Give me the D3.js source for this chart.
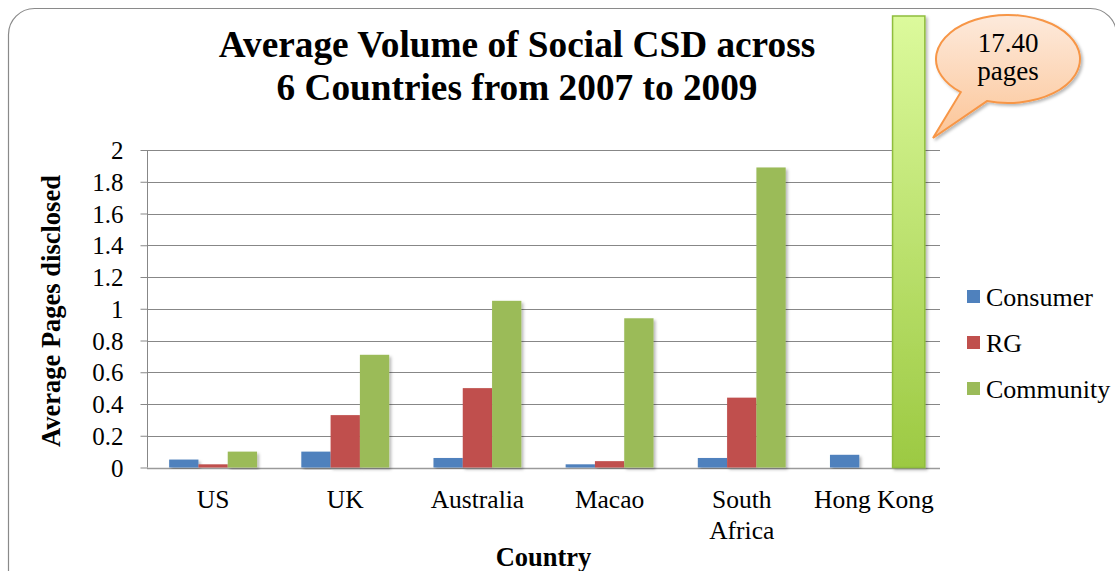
<!DOCTYPE html>
<html>
<head>
<meta charset="utf-8">
<script src="https://cdn.jsdelivr.net/npm/d3@7/dist/d3.min.js"></script>
<style>
  html, body { margin: 0; padding: 0; background: #fff; }
  svg { display: block; }
  text { font-family: "Liberation Serif", "Times New Roman", serif; fill: #000; }
</style>
</head>
<body>
<svg id="chart" width="1115" height="571"></svg>
<script>
// Average pages of social CSD disclosed, by country and category
const countries = ["US", "UK", "Australia", "Macao", "South Africa", "Hong Kong"];
const countryLines = [["US"], ["UK"], ["Australia"], ["Macao"], ["South", "Africa"], ["Hong Kong"]];
const seriesNames = ["Consumer", "RG", "Community"];
const consumer  = [0.05, 0.10, 0.06, 0.02, 0.06, 0.08];
const rg        = [0.02, 0.33, 0.50, 0.04, 0.44, 0.00];
const community = [0.10, 0.71, 1.05, 0.94, 1.89, 17.40];
const yTicks = [0, 0.2, 0.4, 0.6, 0.8, 1, 1.2, 1.4, 1.6, 1.8, 2];
const seriesColors = ["#4f81bd", "#c0504d", "#9bbb59"];
const calloutLines = ["17.40", "pages"];

const svg = d3.select("#chart");
const defs = svg.append("defs");

const shadow = defs.append("filter").attr("id", "barShadow")
  .attr("x", "-20%").attr("y", "-5%").attr("width", "150%").attr("height", "115%");
shadow.append("feDropShadow").attr("dx", 2).attr("dy", 2).attr("stdDeviation", 1.6)
  .attr("flood-color", "#000").attr("flood-opacity", 0.28);

const hkGrad = defs.append("linearGradient").attr("id", "hkGrad")
  .attr("x1", 0).attr("y1", 0).attr("x2", 0).attr("y2", 1);
hkGrad.append("stop").attr("offset", "0%").attr("stop-color", "#dcfa9c");
hkGrad.append("stop").attr("offset", "100%").attr("stop-color", "#9cc942");

const bubbleGrad = defs.append("linearGradient").attr("id", "bubbleGrad")
  .attr("x1", 0).attr("y1", 0).attr("x2", 0).attr("y2", 1);
bubbleGrad.append("stop").attr("offset", "0%").attr("stop-color", "#fdeadc");
bubbleGrad.append("stop").attr("offset", "100%").attr("stop-color", "#fcc597");

// outer slide frame
svg.append("rect").attr("x", 8.5).attr("y", 8.5).attr("width", 1108).attr("height", 640)
  .attr("rx", 26).attr("fill", "none").attr("stroke", "#8a8a8a").attr("stroke-width", 1.2);

const plot = { left: 147, right: 940, top: 150, bottom: 467.5 };

const x0 = d3.scaleBand().domain(countries).range([plot.left, plot.right]).padding(0);
const groupW = x0.bandwidth() * 0.665;
const x1 = d3.scaleBand().domain(seriesNames).range([0, groupW]).padding(0);
const y = d3.scaleLinear().domain([0, 2]).range([plot.bottom, plot.top]);

// gridlines
svg.append("g").selectAll("line").data(yTicks).join("line")
  .attr("x1", plot.left).attr("x2", plot.right)
  .attr("y1", d => Math.round(y(d)) + 0.5).attr("y2", d => Math.round(y(d)) + 0.5)
  .attr("stroke", d => d === 0 ? "#9a9a9a" : "#878787").attr("stroke-width", d => d === 0 ? 1.5 : 1);

// y axis
const yAxis = svg.append("g").attr("transform", `translate(${plot.left + 0.5},0)`)
  .call(d3.axisLeft(y).tickValues(yTicks).tickSize(7).tickPadding(17)
    .tickFormat(d => String(+d.toFixed(1))));
yAxis.select(".domain").attr("stroke", "#878787").attr("d", `M0,${plot.top}V${plot.bottom}`);
yAxis.selectAll(".tick line").attr("stroke", "#878787");
yAxis.selectAll(".tick text").attr("font-size", 25).attr("font-family", "Liberation Serif, serif")
  .attr("dy", "0.34em");

// bars
const rows = countries.map((c, i) => ({ country: c, values: [consumer[i], rg[i], community[i]] }));
const capTop = 16;
const groups = svg.append("g").selectAll("g").data(rows).join("g")
  .attr("transform", d => `translate(${x0(d.country) + (x0.bandwidth() - groupW) / 2},0)`);

groups.selectAll("rect")
  .data(d => d.values.map((v, j) => ({ v, j, country: d.country })))
  .join("rect")
  .filter(d => d.v > 0)
  .attr("x", d => x1(seriesNames[d.j]) + (d.country === "Hong Kong" && d.j === 2 ? 4 : 0))
  .attr("width", d => x1.bandwidth() + (d.country === "Hong Kong" && d.j === 2 ? 3 : 0))
  .attr("y", d => Math.max(y(d.v), capTop))
  .attr("height", d => plot.bottom - Math.max(y(d.v), capTop))
  .attr("fill", d => (d.country === "Hong Kong" && d.j === 2) ? "url(#hkGrad)" : seriesColors[d.j])
  .attr("stroke", d => (d.country === "Hong Kong" && d.j === 2) ? "#8fbd3c" : "none")
  .attr("stroke-width", 1.5)
  .attr("filter", "url(#barShadow)");

// x labels
const xl = svg.append("g").selectAll("text").data(countries).join("text")
  .attr("x", d => x0(d) + x0.bandwidth() / 2)
  .attr("y", 508)
  .attr("text-anchor", "middle").attr("font-size", 25.5);
xl.selectAll("tspan").data((d, i) => countryLines[i]).join("tspan")
  .attr("x", function () { return d3.select(this.parentNode).attr("x"); })
  .attr("dy", (d, i) => i === 0 ? 0 : 31)
  .text(d => d);

// axis titles
svg.append("text").attr("x", (plot.left + plot.right) / 2).attr("y", 566)
  .attr("text-anchor", "middle").attr("font-size", 26.5).attr("font-weight", "bold").text("Country");
svg.append("text").attr("transform", "translate(60,311) rotate(-90)")
  .attr("text-anchor", "middle").attr("font-size", 26.5).attr("font-weight", "bold")
  .text("Average Pages disclosed");

// title
const title = svg.append("text").attr("text-anchor", "middle").attr("font-size", 37.3).attr("font-weight", "bold");
title.append("tspan").attr("x", 517).attr("y", 57).text("Average Volume of Social CSD across");
title.append("tspan").attr("x", 517).attr("y", 100).text("6 Countries from 2007 to 2009");

// legend
const legend = svg.append("g").selectAll("g").data(seriesNames).join("g")
  .attr("transform", (d, i) => `translate(967,${298 + i * 46})`);
legend.append("rect").attr("x", 0).attr("y", -8).attr("width", 13).attr("height", 13)
  .attr("fill", (d, i) => seriesColors[i]);
legend.append("text").attr("x", 19).attr("y", 8).attr("font-size", 26).text(d => d);

// callout bubble for the Hong Kong community value
const cx = 1008, cy = 59, rx = 72, ry = 44;
const pt = a => [cx + rx * Math.cos(a * Math.PI / 180), cy + ry * Math.sin(a * Math.PI / 180)];
const pA = pt(107), pB = pt(131);
const tip = [933, 138];
svg.append("path")
  .attr("d", `M${pA[0]},${pA[1]} A${rx},${ry} 0 1 0 ${pB[0]},${pB[1]} L${tip[0]},${tip[1]} Z`)
  .attr("fill", "url(#bubbleGrad)").attr("stroke", "#f79646").attr("stroke-width", 2)
  .attr("filter", "url(#barShadow)");
svg.append("g").selectAll("text").data(calloutLines).join("text")
  .attr("x", cx).attr("y", (d, i) => 52 + i * 28)
  .attr("text-anchor", "middle").attr("font-size", 27).text(d => d);
</script>
</body>
</html>
